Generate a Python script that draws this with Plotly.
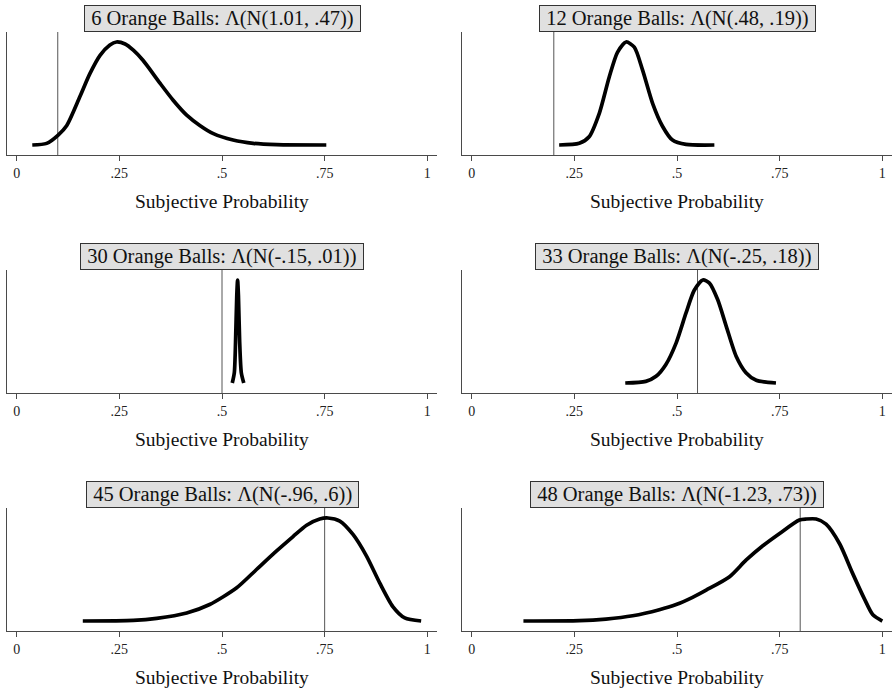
import plotly.graph_objects as go

# ---------------- data ----------------
panel_titles = [
    "6 Orange Balls: Λ(N(1.01, .47))",
    "12 Orange Balls: Λ(N(.48, .19))",
    "30 Orange Balls: Λ(N(-.15, .01))",
    "33 Orange Balls: Λ(N(-.25, .18))",
    "45 Orange Balls: Λ(N(-.96, .6))",
    "48 Orange Balls: Λ(N(-1.23, .73))",
]

# objective probability (orange balls out of 60) -> vertical reference lines
ref_lines = [0.10, 0.20, 0.50, 0.55, 0.75, 0.80]

# relative density heights (peak = 1)
x6 = [0.038, 0.073, 0.101, 0.122, 0.154, 0.178, 0.203, 0.227, 0.243, 0.264, 0.284,
      0.308, 0.349, 0.381, 0.414, 0.446, 0.479, 0.527, 0.576, 0.633, 0.754]
y6 = [0.0, 0.016, 0.097, 0.19, 0.47, 0.69, 0.87, 0.97, 1.0, 0.98, 0.92,
      0.82, 0.60, 0.435, 0.29, 0.19, 0.11, 0.048, 0.016, 0.003, 0.0]

x12 = [0.213, 0.262, 0.286, 0.311, 0.335, 0.355, 0.376, 0.396, 0.416, 0.441,
       0.465, 0.489, 0.522, 0.591]
y12 = [0.0, 0.016, 0.08, 0.31, 0.66, 0.90, 1.0, 0.95, 0.73, 0.40,
       0.18, 0.048, 0.006, 0.0]

x30 = [0.525, 0.530, 0.533, 0.536, 0.538, 0.540, 0.543, 0.547, 0.553]
y30 = [0.0, 0.10, 0.40, 0.85, 1.0, 0.85, 0.40, 0.10, 0.0]

x33 = [0.374, 0.424, 0.449, 0.473, 0.498, 0.522, 0.542, 0.563, 0.579, 0.599,
       0.620, 0.644, 0.668, 0.693, 0.741]
y33 = [0.0, 0.016, 0.065, 0.18, 0.39, 0.68, 0.90, 1.0, 0.97, 0.81,
       0.55, 0.26, 0.10, 0.026, 0.0]

x45 = [0.161, 0.284, 0.341, 0.414, 0.470, 0.535, 0.584, 0.633, 0.673, 0.706,
       0.738, 0.758, 0.787, 0.819, 0.852, 0.884, 0.916, 0.945, 0.985]
y45 = [0.0, 0.006, 0.026, 0.078, 0.16, 0.32, 0.50, 0.68, 0.82, 0.93,
       0.99, 1.0, 0.97, 0.84, 0.63, 0.37, 0.14, 0.03, 0.0]

x48 = [0.126, 0.262, 0.327, 0.392, 0.457, 0.498, 0.538, 0.571, 0.628, 0.668,
       0.709, 0.750, 0.798, 0.815, 0.839, 0.863, 0.896, 0.928, 0.957, 0.977, 1.0]
y48 = [0.0, 0.003, 0.019, 0.051, 0.11, 0.16, 0.23, 0.30, 0.43, 0.59,
       0.73, 0.85, 0.98, 0.99, 0.99, 0.94, 0.75, 0.46, 0.21, 0.06, 0.0]

curves_x = [x6, x12, x30, x33, x45, x48]
curves_y = [y6, y12, y30, y33, y45, y48]

tick_vals = [0, 0.25, 0.5, 0.75, 1]
tick_text = ["0", ".25", ".5", ".75", "1"]
x_title = "Subjective Probability"

# ---------------- layout geometry ----------------
W, H = 892, 692
col_px = [(7, 437), (462, 892)]
row_px = [(32, 155), (270, 393), (508, 631)]
FONT = "Liberation Serif"
AXC = "#4a4a4a"

fig = go.Figure()
annotations = []
shapes = []

for i in range(6):
    r, c = divmod(i, 2)
    n = i + 1
    xa = "x" if n == 1 else f"x{n}"
    ya = "y" if n == 1 else f"y{n}"
    x0, x1 = col_px[c]
    top, bot = row_px[r]
    xdom = [x0 / W, x1 / W]
    ydom = [1 - bot / H, 1 - top / H]

    fig.add_trace(go.Scatter(
        x=curves_x[i], y=curves_y[i], mode="lines",
        line=dict(color="black", width=3.7, shape="spline", smoothing=0.7),
        xaxis=xa, yaxis=ya, showlegend=False, hoverinfo="skip",
        cliponaxis=False,
    ))

    xkey = "xaxis" if n == 1 else f"xaxis{n}"
    ykey = "yaxis" if n == 1 else f"yaxis{n}"
    fig.update_layout({
        xkey: dict(domain=xdom, anchor=ya, range=[-0.0236, 1.0236],
                   showgrid=False, zeroline=False, showline=True,
                   linecolor=AXC, linewidth=1, ticks="outside", ticklen=5,
                   tickwidth=1, tickcolor=AXC, tickvals=tick_vals,
                   ticktext=tick_text, fixedrange=True,
                   tickfont=dict(family=FONT, size=14, color="#222")),
        ykey: dict(domain=ydom, anchor=xa, range=[-0.097, 1.097],
                   showgrid=False, zeroline=False, showline=True,
                   linecolor=AXC, linewidth=1, ticks="", showticklabels=False,
                   fixedrange=True),
    })

    shapes.append(dict(type="line", xref=xa, yref=f"{ya} domain",
                       x0=ref_lines[i], x1=ref_lines[i], y0=0, y1=1,
                       line=dict(color="#555555", width=1), layer="below"))

    # panel title box
    annotations.append(dict(
        text="\u00a0" + panel_titles[i] + "\u00a0",
        xref="paper", yref="paper", x=(xdom[0] + xdom[1]) / 2, y=ydom[1],
        xanchor="center", yanchor="bottom", showarrow=False,
        font=dict(family=FONT, size=20.5, color="#111"),
        bgcolor="#e0e0e0", bordercolor="#333", borderwidth=1, borderpad=1,
    ))
    # x-axis title
    annotations.append(dict(
        text=x_title, xref="paper", yref="paper",
        x=(xdom[0] + xdom[1]) / 2, y=ydom[0], yshift=-46,
        xanchor="center", yanchor="middle", showarrow=False,
        font=dict(family=FONT, size=19.5, color="#111"),
    ))

fig.update_layout(
    width=W, height=H, margin=dict(l=0, r=0, t=0, b=0),
    paper_bgcolor="white", plot_bgcolor="white",
    annotations=annotations, shapes=shapes, showlegend=False,
)

fig.write_html(
    "out.html",
    config={"displayModeBar": False},
    post_script="document.body.style.margin='0';document.body.style.overflow='hidden';",
)
